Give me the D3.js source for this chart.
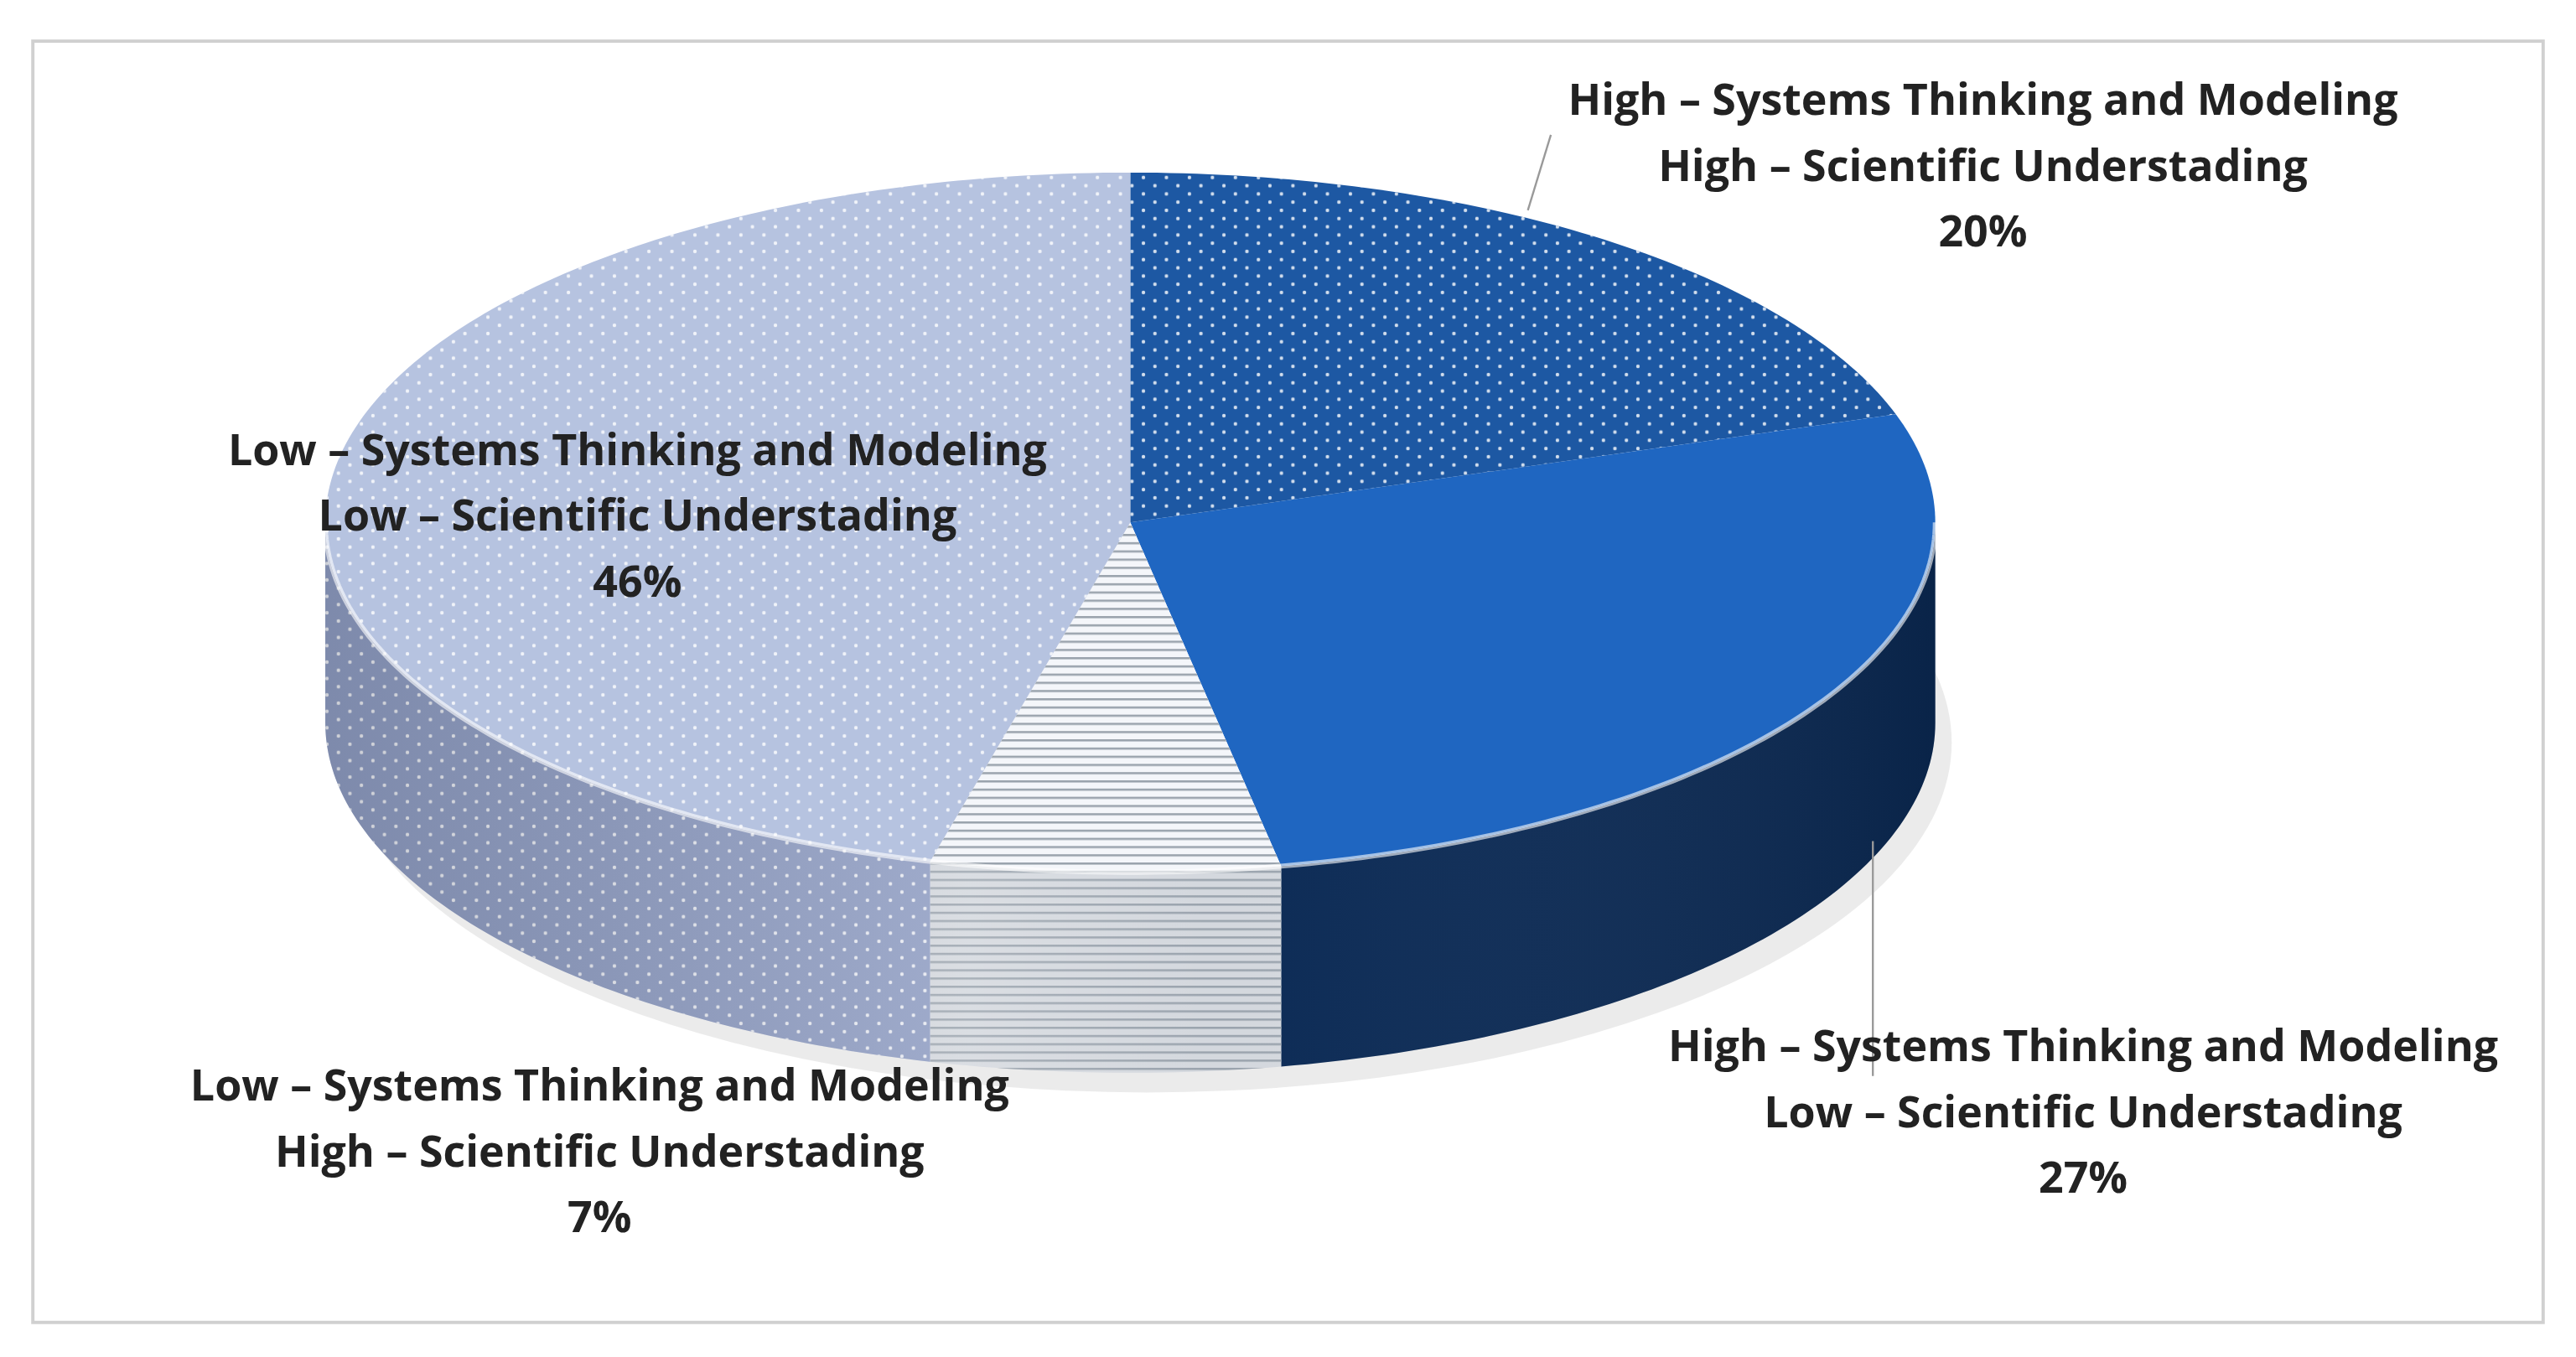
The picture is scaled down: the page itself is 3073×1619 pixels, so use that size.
<!DOCTYPE html>
<html><head><meta charset="utf-8">
<script src="https://cdn.jsdelivr.net/npm/d3@7"></script>
<style>body{margin:0;background:#fff}</style></head>
<body><svg id="c" width="3073" height="1619" viewBox="0 0 1568 826"></svg>
<script>
const categories=["High – Systems Thinking and Modeling|High – Scientific Understading","High – Systems Thinking and Modeling|Low – Scientific Understading","Low – Systems Thinking and Modeling|High – Scientific Understading","Low – Systems Thinking and Modeling|Low – Scientific Understading"];
const values=[20,27,7,46];
const labels=["20%","27%","7%","46%"];
const topColors=["#1d58a3","#1f66c1","#f4f6fa","#b6c3e0"];
const sideColors=["#163f78","#0b2a55","#d4d8de","#8f9dc3"];
const patterns=["dots","none","lines","dots"];
const labelPos=[[1207,62],[1268,638],[365,662],[388,275]];

const svg=d3.select("#c");
const cx=688,cy=318,rx=490,ry=213,depth=122;
const defs=svg.append("defs");
function dotPat(id,col){const p=defs.append("pattern").attr("id",id).attr("width",14).attr("height",10).attr("patternUnits","userSpaceOnUse");
 p.append("circle").attr("cx",3).attr("cy",3).attr("r",1.1).attr("fill",col).attr("opacity",.8);
 p.append("circle").attr("cx",10).attr("cy",8).attr("r",1.1).attr("fill",col).attr("opacity",.8);}
dotPat("dotsW","#ffffff");
const lp=defs.append("pattern").attr("id","linesG").attr("width",10).attr("height",5).attr("patternUnits","userSpaceOnUse");
lp.append("rect").attr("y",0).attr("width",10).attr("height",1.3).attr("fill","#9aa3ad");
const g=defs.append("linearGradient").attr("id","shade").attr("x1",0).attr("x2",1);
g.append("stop").attr("offset","0").attr("stop-color","#000").attr("stop-opacity",.12);
g.append("stop").attr("offset",".4").attr("stop-color","#fff").attr("stop-opacity",.15);
g.append("stop").attr("offset",".55").attr("stop-color","#fff").attr("stop-opacity",0);
g.append("stop").attr("offset","1").attr("stop-color","#000").attr("stop-opacity",.15);

svg.append("rect").attr("x",20).attr("y",25).attr("width",1528).attr("height",780).attr("fill","none").attr("stroke","#d0d0d0").attr("stroke-width",2);
svg.append("ellipse").attr("cx",cx+10).attr("cy",cy+depth+12).attr("rx",rx).attr("ry",ry).attr("fill","#000").attr("opacity",.08);

const pie=d3.pie().sort(null).value(d=>d)(values);
const px=a=>cx+rx*Math.sin(a), py=a=>cy-ry*Math.cos(a);
const line=d3.line();
function arcPts(a0,a1,dy){const n=Math.max(2,Math.ceil((a1-a0)*60));return d3.range(n+1).map(i=>{const a=a0+(a1-a0)*i/n;return [px(a),py(a)+dy];});}
pie.forEach((s,i)=>{
 const a0=Math.max(s.startAngle,Math.PI/2),a1=Math.min(s.endAngle,3*Math.PI/2);
 if(a1<=a0)return;
 const pts=arcPts(a0,a1,0).concat(arcPts(a0,a1,depth).reverse());
 svg.append("path").attr("d",line(pts)+"Z").attr("fill",sideColors[i]);
 if(patterns[i]!=="none")svg.append("path").attr("d",line(pts)+"Z").attr("fill",patterns[i]==="dots"?"url(#dotsW)":"url(#linesG)");
});
const sidePts=arcPts(Math.PI/2,3*Math.PI/2,0).concat(arcPts(Math.PI/2,3*Math.PI/2,depth).reverse());
svg.append("path").attr("d",line(sidePts)+"Z").attr("fill","url(#shade)");
pie.forEach((s,i)=>{
 const pts=[[cx,cy]].concat(arcPts(s.startAngle,s.endAngle,0));
 svg.append("path").attr("d",line(pts)+"Z").attr("fill",topColors[i]);
 if(patterns[i]!=="none")svg.append("path").attr("d",line(pts)+"Z").attr("fill",patterns[i]==="dots"?"url(#dotsW)":"url(#linesG)");
});
svg.append("path").attr("d",line(arcPts(Math.PI/2,3*Math.PI/2,0))).attr("fill","none").attr("stroke","#fff").attr("stroke-opacity",.6).attr("stroke-width",3);
svg.append("line").attr("x1",930).attr("y1",128).attr("x2",944).attr("y2",82).attr("stroke","#999").attr("stroke-width",1.2);
svg.append("line").attr("x1",1140).attr("y1",512).attr("x2",1140).attr("y2",655).attr("stroke","#999").attr("stroke-width",1.2);
categories.forEach((c,i)=>{
 const t=svg.append("text").attr("text-anchor","middle").attr("font-family","'Open Sans',sans-serif").attr("font-weight",700).attr("font-size",26.5).attr("fill","#222");
 const lines=c.split("|").concat([labels[i]]);
 lines.forEach((l,k)=>t.append("tspan").attr("x",labelPos[i][0]).attr("y",labelPos[i][1]+k*40+8).text(l));
});
</script></body></html>
